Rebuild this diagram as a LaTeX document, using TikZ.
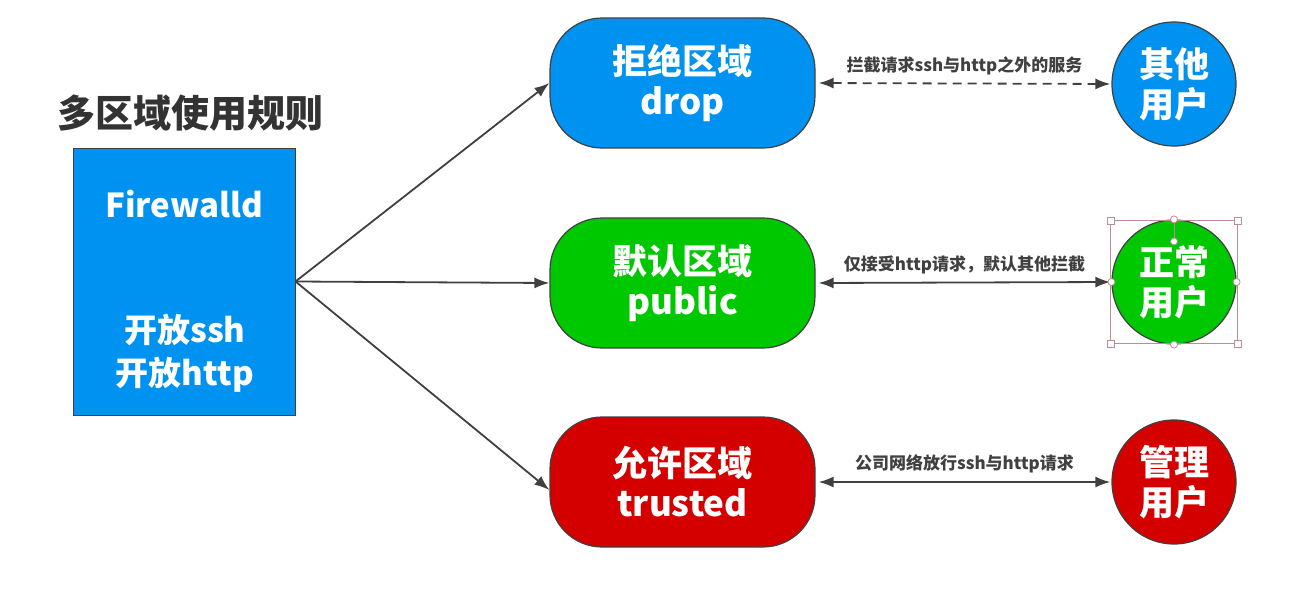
\documentclass[tikz,border=0pt]{standalone}
\usepackage{fontspec}
\setmainfont{Noto Sans CJK SC}
\usetikzlibrary{arrows.meta}
\definecolor{zblue}{RGB}{0,146,240}
\definecolor{zgreen}{RGB}{0,200,0}
\definecolor{zred}{RGB}{212,0,0}
\definecolor{ink}{RGB}{64,64,64}
\definecolor{titleink}{RGB}{51,51,51}
\definecolor{handle}{RGB}{190,140,150}
\begin{document}
\begin{tikzpicture}[x=1pt,y=-1pt,
  zone/.style={draw=ink, line width=1.2pt, rounded corners=52pt, minimum width=265pt, minimum height=130pt,
    text=white, font=\bfseries\fontsize{35}{40}\selectfont, align=center, inner sep=0pt},
  user/.style={circle, draw=ink, line width=1.2pt, minimum size=124pt, inner sep=0pt,
    text=white, font=\bfseries\fontsize{35}{40}\selectfont, align=center},
  fwbox/.style={draw=ink, line width=1pt, fill=zblue, minimum width=222pt, minimum height=267pt, inner sep=0pt},
  fwtext/.style={text=white, font=\bfseries\fontsize{33}{43}\selectfont, align=center, inner sep=0pt},
  conn/.style={draw=ink, line width=1.8pt, -{Latex[length=15pt,width=11pt]}},
  dconn/.style={draw=ink, line width=1.8pt, {Latex[length=15pt,width=11pt]}-{Latex[length=15pt,width=11pt]}},
  elabel/.style={text=ink, font=\bfseries\fontsize{17}{19}\selectfont, inner sep=0pt},
  hbox/.style={draw=handle, line width=0.8pt},
  hsq/.style={draw=handle, fill=white, line width=0.8pt, minimum size=7pt, inner sep=0pt},
  hci/.style={circle, draw=handle, fill=white, line width=0.8pt, minimum size=7pt, inner sep=0pt}
]
\useasboundingbox (0,0) rectangle (1293,597);

\node[text=titleink, font=\bfseries\fontsize{38}{40}\selectfont, inner sep=0pt] (title) at (190,113) {多区域使用规则};

\node[fwbox] (fw) at (184,281.5) {};
\node[fwtext] (fwt1) at (184,204) {Firewalld};
\node[fwtext] (fwt2) at (185,353) {开放ssh\\开放http};

\node[zone, fill=zblue] (drop) at (682.5,83) {拒绝区域\\drop};
\node[zone, fill=zgreen] (public) at (682.5,283) {默认区域\\public};
\node[zone, fill=zred] (trusted) at (682.5,482) {允许区域\\trusted};

\node[user, fill=zblue] (other) at (1174,84) {其他\\用户};
\node[user, fill=zgreen] (normal) at (1174,282) {正常\\用户};
\node[user, fill=zred] (admin) at (1174,482) {管理\\用户};

\draw[conn] (fw.east) -- (drop.west);
\draw[conn] (fw.east) -- (public.west);
\draw[conn] (fw.east) -- ([yshift=-8pt]trusted.west);

\draw[dconn, dash pattern=on 9pt off 6pt] ([xshift=3pt]drop.east) -- node[elabel, above=8pt] {拦截请求ssh与http之外的服务} ([xshift=-1pt]other.west);
\draw[dconn] ([xshift=3pt]public.east) -- node[elabel, above=8pt] {仅接受http请求，默认其他拦截} ([xshift=-1pt]normal.west);
\draw[dconn] ([xshift=3pt]trusted.east) -- node[elabel, above=8pt] {公司网络放行ssh与http请求} ([xshift=-1pt]admin.west);

% selection handles around the normal-user circle
\coordinate (hnw) at ([xshift=-1pt,yshift=-1pt]normal.west |- normal.north);
\coordinate (hse) at ([xshift=1pt,yshift=1pt]normal.east |- normal.south);
\coordinate (hrot) at ([yshift=-22pt]normal.north);
\draw[hbox] (hnw) rectangle (hse);
\draw[hbox] (normal.north) -- (hrot);
\node[hci] (hr) at (hrot) {};
\node[hsq] (h1) at (hnw) {};
\node[hsq] (h2) at (hse) {};
\node[hsq] (h3) at (hnw |- hse) {};
\node[hsq] (h4) at (hse |- hnw) {};
\node[hci] (h5) at (normal.north) {};
\node[hci] (h6) at (normal.south) {};
\node[hci] (h7) at (normal.east) {};
\node[hci] (h8) at (normal.west) {};
\end{tikzpicture}
\end{document}
